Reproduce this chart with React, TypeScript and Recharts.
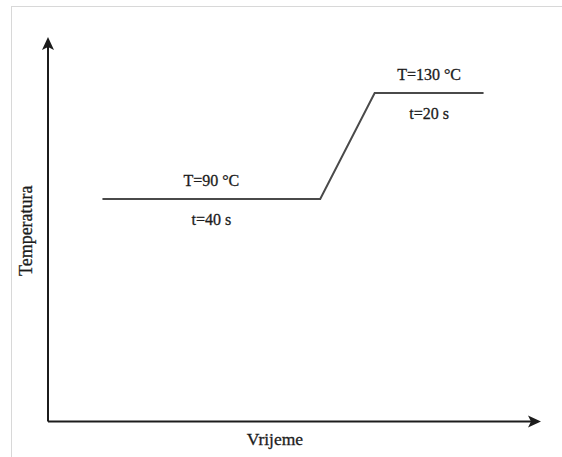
import { Label, Line, LineChart, ReferenceDot, XAxis, YAxis } from 'recharts';

// heating schedule: hold, ramp, hold
const times = [10, 50, 60, 80];
const temps = [90, 90, 130, 130];

const timeDomain = [0, 90];
const tempDomain = [6, 150];

const FONT = "'Liberation Serif', 'Times New Roman', 'DejaVu Serif', serif";
const INK = '#1c1c1c';
const textStyle = { fontFamily: FONT, fill: INK, stroke: INK, strokeWidth: 0.3 };

const data = times.map((t, i) => ({ t, T: temps[i] }));

// flat parts of the curve, each labelled with its temperature and duration
const holds = [0, 2].map((i) => ({
	mid: (times[i] + times[i + 1]) / 2,
	temp: temps[i],
	duration: times[i + 1] - times[i],
}));

const ArrowRight = ({ cx, cy }: any) => (
	<polygon
		points={`${cx + 3},${cy} ${cx - 10},${cy - 6} ${cx - 7},${cy} ${cx - 10},${cy + 6}`}
		fill={INK}
	/>
);

const ArrowUp = ({ cx, cy }: any) => (
	<polygon
		points={`${cx},${cy - 3} ${cx - 6},${cy + 10} ${cx},${cy + 7} ${cx + 6},${cy + 10}`}
		fill={INK}
	/>
);

const holdLabel = (temp: number, duration: number) => ({ cx, cy }: any) => (
	<g style={{ ...textStyle, fontSize: 16 }} textAnchor="middle">
		<text x={cx} y={cy - 13}>{`T=${temp} °C`}</text>
		<text x={cx} y={cy + 26}>{`t=${duration} s`}</text>
	</g>
);

const xTitle = ({ viewBox }: any) => (
	<text
		x={viewBox.x + viewBox.width / 2 - 18}
		y={viewBox.y + 23.5}
		textAnchor="middle"
		style={{ ...textStyle, fontSize: 17.5 }}
	>
		Vrijeme
	</text>
);

const yTitle = ({ viewBox }: any) => {
	const x = viewBox.x + 14;
	const y = viewBox.y + viewBox.height / 2;
	return (
		<text
			x={x}
			y={y}
			transform={`rotate(-90, ${x}, ${y})`}
			textAnchor="middle"
			style={{ ...textStyle, fontSize: 18 }}
		>
			Temperatura
		</text>
	);
};

export default function App() {
	return (
		<div
			style={{
				position: 'absolute',
				left: 0,
				top: 0,
				width: 562,
				height: 457,
				background: '#fff',
			}}
		>
			<div
				style={{
					position: 'absolute',
					left: 11,
					top: 6,
					right: 0,
					bottom: 0,
					borderTop: '1.5px solid #d8d8d8',
					borderLeft: '1.5px solid #d8d8d8',
				}}
			/>
			<LineChart
				width={562}
				height={457}
				data={data}
				margin={{ top: 40, right: 24, bottom: 5.5, left: 18 }}
				style={{ position: 'absolute', left: 0, top: 0 }}
			>
				<XAxis
					dataKey="t"
					type="number"
					domain={timeDomain}
					allowDataOverflow
					tick={false}
					tickLine={false}
					height={30}
					axisLine={{ stroke: INK, strokeWidth: 2 }}
				>
					<Label content={xTitle} />
				</XAxis>
				<YAxis
					dataKey="T"
					type="number"
					domain={tempDomain}
					allowDataOverflow
					tick={false}
					tickLine={false}
					width={30}
					axisLine={{ stroke: INK, strokeWidth: 2 }}
				>
					<Label content={yTitle} />
				</YAxis>
				<Line
					dataKey="T"
					type="linear"
					stroke="#4a4a4a"
					strokeWidth={2}
					dot={false}
					isAnimationActive={false}
				/>
				<ReferenceDot
					x={timeDomain[1]}
					y={tempDomain[0]}
					ifOverflow="visible"
					shape={ArrowRight}
				/>
				<ReferenceDot
					x={timeDomain[0]}
					y={tempDomain[1]}
					ifOverflow="visible"
					shape={ArrowUp}
				/>
				{holds.map((h) => (
					<ReferenceDot
						key={h.temp}
						x={h.mid}
						y={h.temp}
						ifOverflow="visible"
						shape={holdLabel(h.temp, h.duration)}
					/>
				))}
			</LineChart>
		</div>
	);
}
